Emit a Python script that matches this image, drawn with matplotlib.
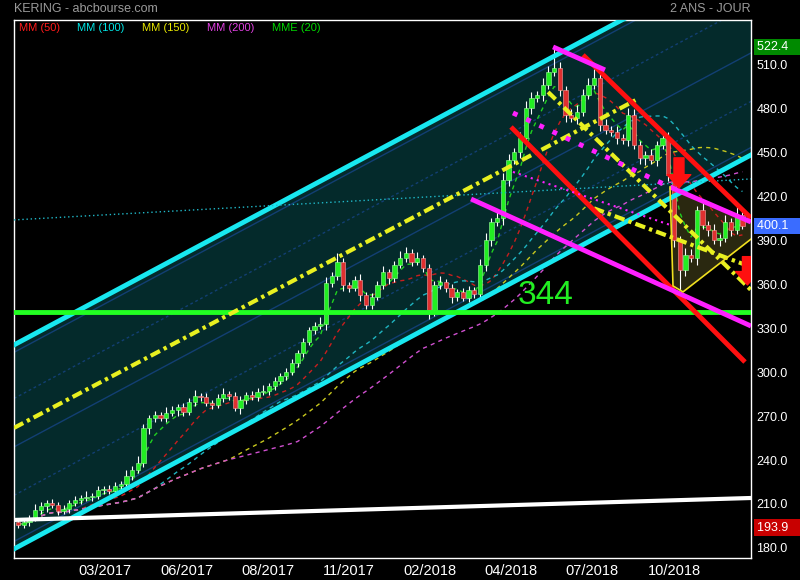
import numpy as np
import pandas as pd
import matplotlib.pyplot as plt
import matplotlib.transforms as mtransforms

# one candle per 4 trading days, closes
closes = [195.7, 197.7, 200.5, 205.9, 208.6, 210.7, 209.3, 205.2, 206.6, 210.7,
          212.8, 214.1, 214.8, 215.5, 219.6, 220.3, 218.9, 222.3, 223.7, 229.1,
          233.2, 238.0, 262.0, 268.8, 270.8, 268.8, 272.2, 274.2, 276.3, 272.9,
          279.7, 283.8, 283.1, 279.0, 277.7, 282.4, 285.2, 283.8, 275.6, 281.1,
          284.5, 283.1, 286.5, 287.2, 290.6, 294.1, 297.5, 300.2, 306.4, 313.2,
          320.7, 328.9, 331.6, 333.0, 361.0, 365.8, 375.4, 359.7, 357.6, 363.1,
          352.8, 346.0, 351.5, 359.7, 368.5, 364.4, 373.3, 378.1, 381.5, 375.4,
          378.1, 371.3, 342.6, 359.7, 361.7, 357.6, 351.5, 354.9, 350.8, 356.2,
          353.5, 373.3, 390.4, 402.7, 405.4, 431.4, 445.1, 450.5, 460.1, 480.6,
          487.4, 489.5, 496.3, 505.2, 507.9, 492.9, 475.8, 473.8, 477.9, 489.5,
          496.3, 501.1, 469.0, 465.6, 464.2, 460.1, 458.7, 475.8, 455.3, 446.4,
          448.5, 445.1, 455.3, 460.1, 434.8, 390.4, 369.9, 380.2, 378.1, 410.9,
          400.7, 397.2, 390.4, 391.8, 402.7, 397.2, 407.5, 400.1]
first_open = 198.0
wick_up = [2, 3, 2, 4, 3, 2, 3, 2, 3, 2, 3, 2, 4, 2, 3, 2, 3, 3, 2, 4,
           3, 5, 3, 2, 3, 2, 4, 3, 2, 3, 3, 4, 2, 3, 2, 3, 4, 2, 3, 3,
           2, 3, 3, 4, 2, 3, 2, 3, 3, 2, 3, 2, 3, 5, 4, 3, 6, 3, 2, 3,
           4, 2, 3, 3, 4, 2, 3, 5, 4, 3, 4, 2, 3, 3, 4, 2, 3, 2, 3, 3,
           2, 4, 5, 3, 6, 5, 4, 3, 4, 5, 4, 3, 5, 4, 14.5, 4, 3, 4, 5, 4,
           5, 6, 3, 4, 3, 4, 3, 5, 4, 3, 3, 4, 3, 5, 4, 6, 3, 5, 4, 3,
           5, 3, 4, 3, 5, 3, 6, 3]
wick_dn = [1.8, 2, 3, 2, 3, 4, 2, 3, 2, 3, 2, 3, 2, 3, 2, 3, 2, 3, 2, 3,
           3, 2, 3, 4, 3, 2, 3, 2, 4, 3, 2, 3, 3, 2, 3, 2, 3, 3, 2, 4,
           3, 2, 3, 2, 3, 3, 2, 3, 2, 3, 3, 2, 3, 2, 4, 3, 3, 4, 3, 2,
           4, 3, 3, 2, 3, 4, 3, 2, 3, 3, 2, 3, 6, 4, 3, 3, 4, 3, 2, 3,
           3, 3, 4, 4, 3, 5, 4, 3, 4, 5, 4, 3, 4, 3, 3, 4, 5, 3, 4, 3,
           3, 3, 4, 3, 3, 4, 3, 4, 3, 4, 5, 3, 4, 3, 4, 5, 14, 4, 3, 5,
           3, 4, 3, 4, 3, 4, 3, 2]
days_per_candle = 4

tick_days = [61.0, 118.5, 175.3, 232.1, 288.9, 345.7, 402.5, 460.0]
tick_labels = ['03/2017', '06/2017', '08/2017', '11/2017', '02/2018', '04/2018', '07/2018', '10/2018']
price_ticks = [180, 210, 240, 270, 300, 330, 360, 390, 420, 450, 480, 510]

# moving averages (window in days) and their legend colours
ma_defs = [('MM (50)', 50, '#ff1a1a', '#c81e1e'),
           ('MM (100)', 100, '#00e5e5', '#1fb4c0'),
           ('MM (150)', 150, '#e8e800', '#c8c81e'),
           ('MM (200)', 200, '#e040e0', '#d050d0'),
           ('MME (20)', 20, '#00d800', '#20d020')]

# regression channel: mid line at both ends and offsets
chan_x = [-2.8, 514.0]
chan_mid = [249.0, 518.2]
chan_cyan = 69.7
chan_blue = 64.6
chan_quarter = 33.1

# hand-drawn lines: (x0, y0, x1, y1) in days / price
white_line = (-2.8, 199.1, 514.0, 214.1)
cyan_dotted = (-2.8, 404.1, 514.0, 432.1)
support_344 = 341.4
yellow_up = (-2.8, 262.0, 434.8, 486.8)
yellow_down = (371.7, 491.5, 514.0, 356.2)
yellow_down2 = (403.9, 412.0, 514.0, 372.0)
red_upper = (396.2, 516.8, 514.0, 405.4)
red_lower = (345.7, 467.6, 509.8, 307.0)
magenta_top = (375.2, 522.3, 411.6, 506.6)
magenta_dots = (347.1, 477.2, 457.2, 426.6)
magenta_right = (457.2, 426.6, 514.0, 402.7)
magenta_thin = (347.1, 436.9, 457.2, 400.7)
magenta_low = (317.7, 418.4, 514.0, 331.6)
tri_x = [457.2, 514.0, 514.0, 466.3, 459.3]
tri_y = [426.6, 402.7, 391.0, 354.9, 359.0]
arrows = [(463.5, 446.5, 425.9), (511.5, 379.0, 359.7)]

n = len(closes)
x = np.arange(n) * days_per_candle
c = np.array(closes)
o = np.concatenate([[first_open], c[:-1]])
hi = np.maximum(o, c) + np.array(wick_up)
lo = np.minimum(o, c) - np.array(wick_dn)

fig = plt.figure(figsize=(8, 5.8), dpi=100, facecolor='black')
ax = fig.add_axes([14 / 800, 22 / 580, 737 / 800, 538 / 580])
ax.set_facecolor('black')
ax.set_xlim(-2.8, 514.0)
ax.set_ylim(173.1, 540.7)

# channel
cx = np.array(chan_x)
mid = np.array(chan_mid)
ax.fill_between(cx, mid - chan_cyan, mid + chan_cyan, color='#042a2b', zorder=0, lw=0)
for off, ls in [(chan_blue, '-'), (chan_quarter, (0, (2, 2))), (0, '-'),
                (-chan_quarter, (0, (2, 2))), (-chan_blue, '-')]:
    ax.plot(cx, mid + off, color='#123f73', lw=1, ls=ls, zorder=1)

ax.fill(tri_x, tri_y, color='#2a2810', zorder=1, lw=0)

# moving averages
s = pd.Series(c)
for name, win, lc, col in ma_defs:
    w = max(1, round(win / days_per_candle))
    if name.startswith('MME'):
        m = s.ewm(span=w, adjust=False).mean()
    else:
        m = s.rolling(w, min_periods=1).mean()
    ax.plot(x, m, color=col, lw=1, ls=(0, (3, 3)), zorder=2)

# candles
ax.vlines(x, lo, hi, color='white', lw=0.8, zorder=3)
up = c >= o
ax.bar(x[up], (c - o)[up], bottom=o[up], width=3, color='#22ee22', edgecolor='#9dff9d', lw=0.4, zorder=4)
ax.bar(x[~up], (o - c)[~up], bottom=c[~up], width=3, color='#e03030', edgecolor='#ffa0a0', lw=0.4, zorder=4)


def seg(line, **kw):
    ax.plot([line[0], line[2]], [line[1], line[3]], solid_capstyle='butt', **kw)


ax.plot(cx, mid + chan_cyan, color='#18e8f0', lw=3.5, zorder=5)
ax.plot(cx, mid - chan_cyan, color='#18e8f0', lw=3.5, zorder=5)
seg(white_line, color='white', lw=3, zorder=5)
seg(cyan_dotted, color='#20b8c8', lw=1, ls=(0, (1, 2)), zorder=5)
ax.axhline(support_344, color='#22ff22', lw=3.5, zorder=6)
seg(yellow_up, color='#e8f020', lw=3, ls=(0, (2.5, 1, 0.8, 1)), zorder=6)
seg(yellow_down, color='#e8f020', lw=3, ls=(0, (2.5, 1, 0.8, 1)), zorder=6)
seg(yellow_down2, color='#e8f020', lw=3, ls=(0, (2.5, 1, 0.8, 1)), zorder=6)
seg(red_upper, color='#ff1010', lw=3.5, zorder=6)
seg(red_lower, color='#ff1010', lw=3.5, zorder=6)
seg(magenta_top, color='#ff20ff', lw=3.5, zorder=6)
seg(magenta_dots, color='#ff20ff', lw=3.5, ls=(0, (1, 2)), zorder=6)
seg(magenta_right, color='#ff20ff', lw=3.5, zorder=6)
seg(magenta_thin, color='#ff20ff', lw=1.5, ls=(0, (1, 2)), zorder=6)
seg(magenta_low, color='#ff20ff', lw=3.5, zorder=6)
ax.plot(tri_x[2:] + [tri_x[0]], tri_y[2:] + [tri_y[0]], color='#f0e020', lw=1.2, zorder=6)

for ax_x, y0, y1 in arrows:
    ann = ax.annotate('', xy=(ax_x, y1), xytext=(ax_x, y0), zorder=7,
                      arrowprops=dict(arrowstyle='simple,head_length=0.48,head_width=0.85,tail_width=0.36',
                                      color='#ff1010', mutation_scale=20, shrinkA=0, shrinkB=0))
    ann.arrow_patch.set_clip_path(ax.patch)

ax.text(350.6, 352.8, '344', color='#22ee22', fontsize=24, va='center', ha='left',
        family='Liberation Sans', zorder=8)

# axes styling
for sp in ax.spines.values():
    sp.set_color('white')
    sp.set_linewidth(1)
ax.yaxis.tick_right()
ax.set_yticks(price_ticks)
ax.set_yticklabels([f'{p:.1f}' for p in price_ticks], color='white', fontsize=9, family='Liberation Sans')
ax.set_xticks(tick_days)
ax.set_xticklabels(tick_labels, color='white', fontsize=10.5,
                   family=['Liberation Sans Narrow', 'Liberation Sans'])
ax.tick_params(length=0, pad=4)

trans = mtransforms.blended_transform_factory(ax.transAxes, ax.transData)
for val, bg in [(522.4, '#008a00'), (400.1, '#3a6cff'), (193.9, '#c80000')]:
    ax.text(1.0075, val, f'{val:.1f}   ', transform=trans, color='white', fontsize=9,
            family='Liberation Sans', va='center', ha='left', zorder=9, clip_on=False,
            bbox=dict(facecolor=bg, edgecolor='none', pad=1.5))

# legend line inside the frame
leg_x = [19, 77, 142, 207, 272]
for (name, win, lc, col), px in zip(ma_defs, leg_x):
    fig.text(px / 800, 1 - 28 / 580, name, color=lc, fontsize=8, va='center', family='Liberation Sans')

fig.text(14 / 800, 1 - 9 / 580, 'KERING - abcbourse.com', color='#9a9a9a', fontsize=9,
         va='center', family='Liberation Sans')
fig.text(751 / 800, 1 - 9 / 580, '2 ANS - JOUR', color='#9a9a9a', fontsize=9,
         va='center', ha='right', family='Liberation Sans')

fig.savefig('out.png', dpi=100, facecolor='black')
